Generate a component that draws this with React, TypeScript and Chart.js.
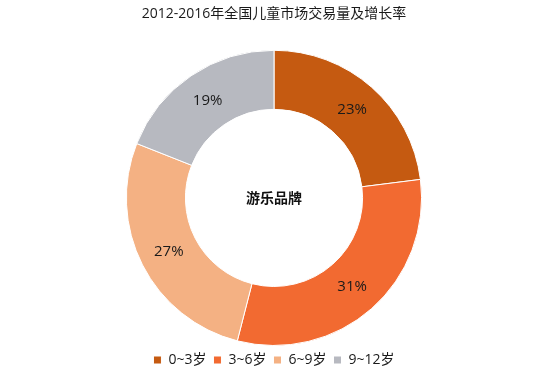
import React, { useEffect, useRef } from "react";
import { Chart, registerables } from "chart.js";

Chart.register(...registerables);

const categories = ["0~3岁", "3~6岁", "6~9岁", "9~12岁"];
const shares = [23, 31, 27, 19];
const colors = ["#C55A11", "#F26A31", "#F4B183", "#B7B9C0"];
const titleText = "2012-2016年全国儿童市场交易量及增长率";
const centerText = "游乐品牌";

const FONT = "'Segoe UI', 'Open Sans', 'Noto Sans CJK SC', sans-serif";

const labelPlugin = {
  id: "sliceLabels",
  afterDatasetsDraw(chart: any) {
    const ctx = chart.ctx;
    const meta = chart.getDatasetMeta(0);
    ctx.save();
    ctx.fillStyle = "#1a1a1a";
    ctx.font = "15px " + FONT;
    ctx.textAlign = "center";
    ctx.textBaseline = "middle";
    meta.data.forEach((arc: any, i: number) => {
      const p = arc.tooltipPosition();
      ctx.fillText(shares[i] + "%", p.x, p.y);
    });
    const a = meta.data[0];
    ctx.font = "bold 14px 'Noto Sans CJK SC', sans-serif";
    ctx.fillStyle = "#111";
    ctx.fillText(centerText, a.x, a.y);
    ctx.restore();
  },
};

export default function App() {
  const ref = useRef<HTMLCanvasElement>(null);
  useEffect(() => {
    const chart = new Chart(ref.current!, {
      type: "doughnut",
      data: {
        labels: categories,
        datasets: [
          {
            data: shares,
            backgroundColor: colors,
            borderColor: "#ffffff",
            borderWidth: 1,
          },
        ],
      },
      options: {
        animation: false,
        responsive: true,
        maintainAspectRatio: false,
        cutout: "60%",
        layout: { padding: { top: 0, bottom: 11, left: 0, right: 0 } },
        plugins: {
          title: {
            display: true,
            text: titleText,
            color: "#1a1a1a",
            font: { size: 14, family: FONT, weight: "normal" },
            padding: { top: 6, bottom: 27 },
          },
          legend: {
            position: "bottom",
            labels: {
              color: "#1a1a1a",
              font: { size: 14, family: FONT },
              usePointStyle: true,
              pointStyle: "rect",
              boxWidth: 8,
              boxHeight: 8,
              padding: 7,
            },
          },
          tooltip: { enabled: false },
        },
      },
      plugins: [labelPlugin],
    });
    return () => chart.destroy();
  }, []);
  return (
    <div style={{ position: "fixed", left: 0, top: 0, width: 548, height: 388, background: "#fff" }}>
      <canvas ref={ref} />
    </div>
  );
}
